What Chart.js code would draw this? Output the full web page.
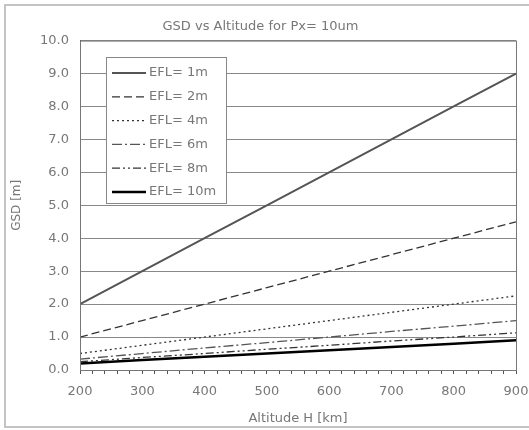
<!DOCTYPE html>
<html>
<head>
<meta charset="utf-8">
<script src="https://cdn.jsdelivr.net/npm/chart.js@4/dist/chart.umd.min.js"></script>
<style>
  html, body { margin: 0; padding: 0; background: #fff; }
  #wrap { width: 529px; height: 430px; }
</style>
</head>
<body>
<div id="wrap"><canvas id="grafico"></canvas></div>
<script>
// Dados
const altitudes = [200, 300, 400, 500, 600, 700, 800, 900];
const efl1 = [2.0, 3.0, 4.0, 5.0, 6.0, 7.0, 8.0, 9.0];
const efl2 = [1.0, 1.5, 2.0, 2.5, 3.0, 3.5, 4.0, 4.5];
const efl4 = [0.5, 0.75, 1.0, 1.25, 1.5, 1.75, 2.0, 2.25];
const efl6 = [0.33, 0.5, 0.67, 0.83, 1.0, 1.17, 1.33, 1.5];
const efl8 = [0.25, 0.38, 0.5, 0.63, 0.75, 0.88, 1.0, 1.13];
const efl10 = [0.2, 0.3, 0.4, 0.5, 0.6, 0.7, 0.8, 0.9];
const legendas = ['EFL= 1m', 'EFL= 2m', 'EFL= 4m', 'EFL= 6m', 'EFL= 8m', 'EFL= 10m'];
const yTicks = [0, 1, 2, 3, 4, 5, 6, 7, 8, 9, 10];

const fonte = 'DejaVu Sans';
const corTexto = '#777';

const pontos = serie => serie.map((v, i) => ({ x: altitudes[i], y: v }));

// moldura externa + borda da área do gráfico
const moldura = {
    id: 'moldura',
    beforeDraw(chart) {
        const ctx = chart.ctx;
        ctx.save();
        ctx.strokeStyle = '#c4c4c4';
        ctx.lineWidth = 2;
        ctx.strokeRect(5, 5, 540, 422);
        ctx.restore();
    },
    afterDatasetsDraw(chart) {
        const { ctx, chartArea: a } = chart;
        ctx.save();
        ctx.strokeStyle = '#777';
        ctx.lineWidth = 1;
        ctx.strokeRect(a.left + 0.5, a.top + 0.5, a.right - a.left, a.bottom - a.top);
        ctx.restore();
    }
};

// legenda dentro da área do gráfico
const legendaInterna = {
    id: 'legendaInterna',
    afterDraw(chart) {
        const ctx = chart.ctx;
        const x0 = 106, y0 = 57, w = 120, h = 146;
        ctx.save();
        ctx.fillStyle = '#fff';
        ctx.fillRect(x0, y0, w, h);
        ctx.strokeStyle = '#888';
        ctx.lineWidth = 1;
        ctx.strokeRect(x0 + 0.5, y0 + 0.5, w, h);
        ctx.font = '13px "' + fonte + '"';
        ctx.textBaseline = 'middle';
        chart.data.datasets.forEach((ds, i) => {
            const y = y0 + 16 + i * 23.8;
            ctx.strokeStyle = ds.borderColor;
            ctx.lineWidth = ds.borderWidth;
            ctx.setLineDash(ds.borderDash || []);
            ctx.beginPath();
            ctx.moveTo(x0 + 6, y);
            ctx.lineTo(x0 + 40, y);
            ctx.stroke();
            ctx.setLineDash([]);
            ctx.fillStyle = corTexto;
            ctx.fillText(ds.label, x0 + 43, y);
        });
        ctx.restore();
    }
};

const estilos = [
    { cor: '#555', largura: 2, traco: [] },
    { cor: '#333', largura: 1.3, traco: [8, 4] },
    { cor: '#333', largura: 1.3, traco: [2, 3] },
    { cor: '#555', largura: 1.3, traco: [10, 3, 2, 3] },
    { cor: '#333', largura: 1.3, traco: [8, 3, 2, 3, 2, 3] },
    { cor: '#000', largura: 2.5, traco: [] }
];
const series = [efl1, efl2, efl4, efl6, efl8, efl10];

new Chart(document.querySelector('#grafico'), {
    type: 'line',
    data: {
        datasets: series.map((s, i) => ({
            label: legendas[i],
            data: pontos(s),
            borderColor: estilos[i].cor,
            borderWidth: estilos[i].largura,
            borderDash: estilos[i].traco,
            pointRadius: 0,
            fill: false,
            tension: 0
        }))
    },
    plugins: [moldura, legendaInterna],
    options: {
        responsive: true,
        maintainAspectRatio: false,
        animation: false,
        layout: { padding: { left: 5, right: 13, top: 0, bottom: 0 } },
        plugins: {
            legend: { display: false },
            tooltip: { enabled: false },
            title: {
                display: true,
                text: 'GSD vs Altitude for Px= 10um',
                color: corTexto,
                font: { family: fonte, size: 13, weight: 'normal', lineHeight: 1.2 },
                padding: { top: 19, bottom: 6 }
            }
        },
        scales: {
            x: {
                type: 'linear',
                min: 200,
                max: 900,
                afterFit: s => { s.height = 60; s.paddingRight = 0; s.paddingLeft = 0; },
                grid: {
                    drawOnChartArea: false,
                    tickLength: 4,
                    tickColor: '#555'
                },
                border: { color: '#555' },
                ticks: {
                    stepSize: 20,
                    autoSkip: false,
                    maxRotation: 0,
                    padding: 10,
                    color: corTexto,
                    font: { family: fonte, size: 13 },
                    callback: v => (v % 100 === 0 ? v : '')
                },
                title: {
                    display: true,
                    text: 'Altitude H [km]',
                    color: corTexto,
                    font: { family: fonte, size: 13, lineHeight: 1.2 },
                    padding: { top: 0, bottom: 4 }
                }
            },
            y: {
                min: 0,
                max: 10,
                afterFit: s => { s.width = 75; },
                afterBuildTicks: s => { s.ticks = yTicks.map(v => ({ value: v })); },
                grid: { color: '#888', drawTicks: false },
                border: { color: '#555' },
                ticks: {
                    padding: 11,
                    color: corTexto,
                    font: { family: fonte, size: 13 },
                    callback: v => v.toFixed(1)
                },
                title: {
                    display: true,
                    text: 'GSD [m]',
                    color: corTexto,
                    font: { family: fonte, size: 12, lineHeight: 1.2 },
                    padding: { top: 5, bottom: 0 }
                }
            }
        }
    }
});
</script>
</body>
</html>
